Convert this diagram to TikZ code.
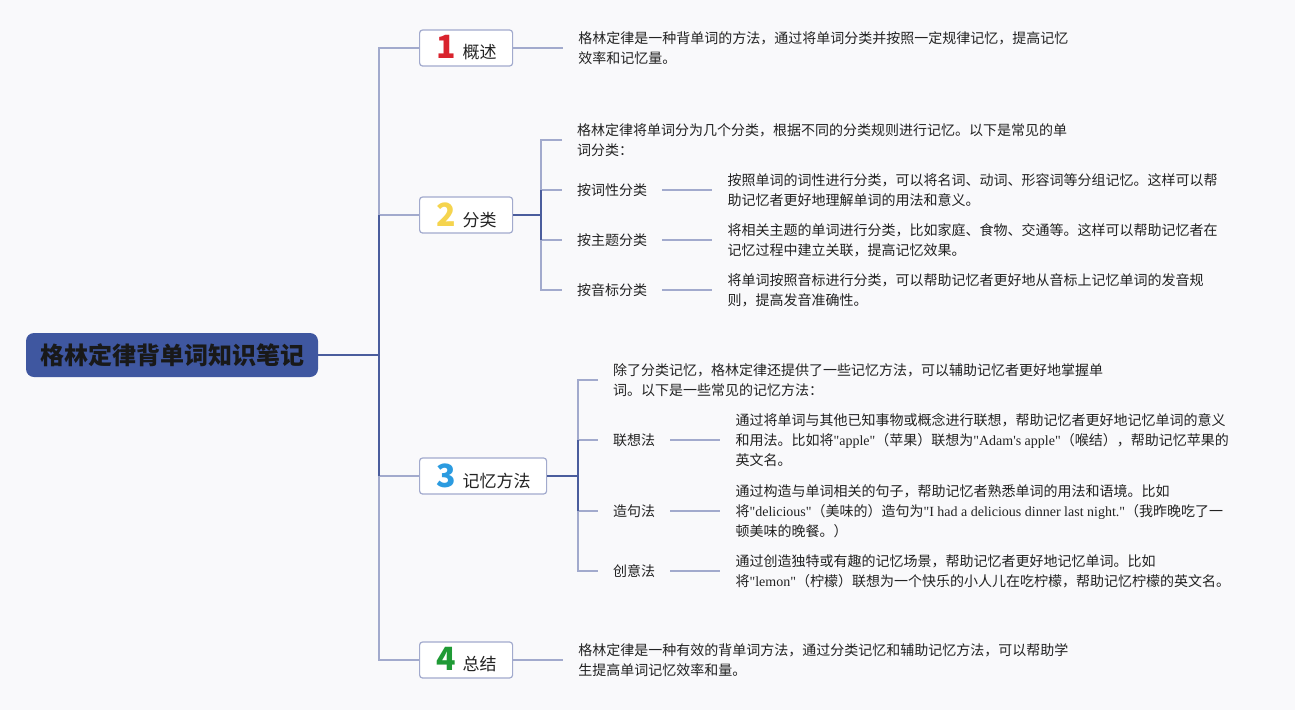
\documentclass[tikz,border=0pt]{standalone}
\usepackage{fontspec}
\setmainfont{Noto Sans CJK SC}
\newfontfamily\enfont{Liberation Serif}
\usepackage{xcolor}
\usetikzlibrary{positioning}

\definecolor{bgcol}{HTML}{F9F9FB}
\definecolor{rootcol}{HTML}{3F57A0}
\definecolor{lightline}{HTML}{A2AACD}
\definecolor{darkline}{HTML}{4B5D9D}
\definecolor{textcol}{HTML}{222222}
\definecolor{numred}{HTML}{D9232D}
\definecolor{numyellow}{HTML}{F5D44E}
\definecolor{numblue}{HTML}{2B9BE0}
\definecolor{numgreen}{HTML}{1F9A35}

\newcommand\numero[2]{\makebox[20pt][r]{\bfseries\fontsize{32}{32}\selectfont\color{#1}#2}\hspace{7pt}}
\newcommand\en[1]{{\enfont #1}}

\begin{document}
\begin{tikzpicture}[x=1pt,y=-1pt,
    txt/.style={inner xsep=15pt, inner ysep=0pt, align=left, text=textcol, font=\fontsize{14}{20}\selectfont},
    topic/.style={draw=lightline, line width=1.2pt, fill=white, rounded corners=3pt, minimum height=36pt, inner xsep=16pt, inner ysep=2pt, text=textcol, font=\fontsize{17}{20}\selectfont},
    lite/.style={draw=lightline, line width=1.5pt},
    dark/.style={draw=darkline, line width=2pt}]
    \fill[bgcol] (0,0) rectangle (1295,710);
    \useasboundingbox (0,0) rectangle (1295,710);

    % root and topics
    \node[fill=rootcol, rounded corners=8pt, minimum width=292pt, minimum height=44pt, text=black!90, font=\bfseries\fontsize{24}{28}\selectfont] (root) at (172,355) {格林定律背单词知识笔记};
    \node[topic, anchor=west] (t1) at (419,48) {\numero{numred}{1}概述};
    \node[topic, anchor=west] (t2) at (419,215) {\numero{numyellow}{2}分类};
    \node[topic, anchor=west] (t3) at (419,476) {\numero{numblue}{3}记忆方法};
    \node[topic, anchor=west] (t4) at (419,660) {\numero{numgreen}{4}总结};

    \coordinate (trunk) at (379,0);
    \draw[lite] (t1.west) -- (trunk |- t1.west) -- (trunk |- t4.west) -- (t4.west);
    \foreach \t in {t2,t3}{
        \draw[lite] (trunk |- \t.west) -- (\t.west);
    }
    \draw[dark] (trunk |- t2.west) -- (trunk |- t3.west);
    \draw[dark] (root.east) -- (trunk |- root.east);

    % 1
    \node[txt, right=50pt of t1] (d1) {格林定律是一种背单词的方法，通过将单词分类并按照一定规律记忆，提高记忆\\效率和记忆量。};
    \draw[lite] (t1.east) -- (d1.west);

    % 2
    \node[txt, anchor=west] (t2i) at (562,140) {格林定律将单词分为几个分类，根据不同的分类规则进行记忆。以下是常见的单\\词分类：};
    \node[txt, anchor=west] (t2a) at (562,190) {按词性分类};
    \node[txt, anchor=west] (t2b) at (562,240) {按主题分类};
    \node[txt, anchor=west] (t2c) at (562,290) {按音标分类};
    \node[txt, right=50pt of t2a] (d2a) {按照单词的词性进行分类，可以将名词、动词、形容词等分组记忆。这样可以帮\\助记忆者更好地理解单词的用法和意义。};
    \node[txt, right=50pt of t2b] (d2b) {将相关主题的单词进行分类，比如家庭、食物、交通等。这样可以帮助记忆者在\\记忆过程中建立关联，提高记忆效果。};
    \node[txt, right=50pt of t2c] (d2c) {将单词按照音标进行分类，可以帮助记忆者更好地从音标上记忆单词的发音规\\则，提高发音准确性。};

    \coordinate (s2) at (541,0);
    \draw[lite] (t2i.west) -- (s2 |- t2i.west) -- (s2 |- t2c.west) -- (t2c.west);
    \foreach \n in {a,b}{
        \draw[lite] (s2 |- t2\n.west) -- (t2\n.west);
    }
    \draw[dark] (s2 |- t2a.west) -- (s2 |- t2b.west);
    \draw[dark] (t2.east) -- (s2 |- t2.east);
    \foreach \n in {a,b,c}{
        \draw[lite] (t2\n.east) -- (d2\n.west);
    }

    % 3
    \node[txt, anchor=west] (t3i) at (598,380) {除了分类记忆，格林定律还提供了一些记忆方法，可以辅助记忆者更好地掌握单\\词。以下是一些常见的记忆方法：};
    \node[txt, anchor=west] (t3a) at (598,440) {联想法};
    \node[txt, anchor=west] (t3b) at (598,511) {造句法};
    \node[txt, anchor=west] (t3c) at (598,571) {创意法};
    \node[txt, right=50pt of t3a] (d3a) {通过将单词与其他已知事物或概念进行联想，帮助记忆者更好地记忆单词的意义\\和用法。比如将\en{"apple"}（苹果）联想为\en{"Adam\symbol{39}s apple"}（喉结），帮助记忆苹果的\\英文名。};
    \node[txt, right=50pt of t3b] (d3b) {通过构造与单词相关的句子，帮助记忆者熟悉单词的用法和语境。比如\\将\en{"delicious"}（美味的）造句为\en{"I had a delicious dinner last night."}（我昨晚吃了一\\顿美味的晚餐。）};
    \node[txt, right=50pt of t3c] (d3c) {通过创造独特或有趣的记忆场景，帮助记忆者更好地记忆单词。比如\\将\en{"lemon"}（柠檬）联想为一个快乐的小人儿在吃柠檬，帮助记忆柠檬的英文名。};

    \coordinate (s3) at (578,0);
    \draw[lite] (t3i.west) -- (s3 |- t3i.west) -- (s3 |- t3c.west) -- (t3c.west);
    \foreach \n in {a,b}{
        \draw[lite] (s3 |- t3\n.west) -- (t3\n.west);
    }
    \draw[dark] (s3 |- t3a.west) -- (s3 |- t3b.west);
    \draw[dark] (t3.east) -- (s3 |- t3.east);
    \foreach \n in {a,b,c}{
        \draw[lite] (t3\n.east) -- (d3\n.west);
    }

    % 4
    \node[txt, right=50pt of t4] (d4) {格林定律是一种有效的背单词方法，通过分类记忆和辅助记忆方法，可以帮助学\\生提高单词记忆效率和量。};
    \draw[lite] (t4.east) -- (d4.west);
\end{tikzpicture}
\end{document}
